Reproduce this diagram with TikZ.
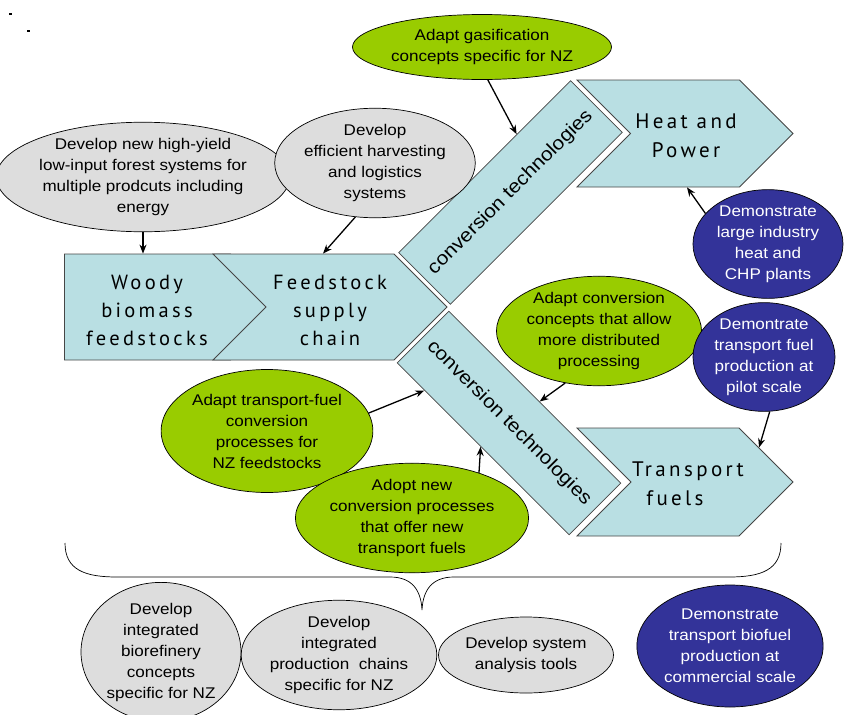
\documentclass[tikz,border=0pt]{standalone}
\usepackage{fontspec}
\setmainfont{Liberation Sans}[FakeStretch=1.1]
\newfontfamily\chevfont{PT Sans}[LetterSpace=16]
\usetikzlibrary{shapes.geometric,shapes.symbols,arrows.meta,calc}
\definecolor{boxblue}{RGB}{185,223,227}
\definecolor{lime}{RGB}{153,204,0}
\definecolor{navy}{RGB}{51,51,153}
\definecolor{lgray}{RGB}{221,221,221}
\definecolor{edge}{RGB}{70,70,70}
\tikzset{
  chev/.style={signal, signal to=east, draw=edge, line width=0.8pt, fill=boxblue, inner sep=0pt},
  chevtext/.style={align=center, inner sep=0pt, font=\chevfont\fontsize{20.5}{28}\selectfont},
  bigchevtext/.style={align=center, inner sep=0pt, font=\chevfont\fontsize{21}{29}\selectfont},
  bar/.style={rectangle, draw=edge, line width=0.8pt, fill=boxblue, minimum width=243pt, minimum height=73pt, inner sep=0pt, font=\fontsize{19}{22}\selectfont},
  bub/.style={ellipse, draw=black, line width=0.7pt, inner sep=0pt, align=center, font=\fontsize{15.5}{21}\selectfont},
  grayb/.style={bub, fill=lgray},
  greenb/.style={bub, fill=lime},
  blueb/.style={bub, fill=navy, text=white},
  arr/.style={-{Stealth[length=9pt,width=7pt]}, line width=1.3pt}
}
\begin{document}
\begin{tikzpicture}[x=1pt,y=-1pt]
\useasboundingbox (0,0) rectangle (844,715);
\clip (0,0) rectangle (844,715);
% specks
\fill[black] (9,13) rectangle (12,15);
\fill[black] (27,30) rectangle (30,32);

% chevrons
\node[chev, minimum width=219pt, minimum height=106pt] (woody) at (147.5,307) {};
\node[chev, signal from=west, minimum width=234pt, minimum height=106pt] (feed) at (330,307) {};
\node[chev, signal from=west, minimum width=216pt, minimum height=107pt] (heat) at (685,133.5) {};
\node[chev, signal from=west, minimum width=216pt, minimum height=108pt] (trans) at (685,482) {};
\node[chevtext] (woodyT) at (147,310) {Woody\\biomass\\feedstocks};
\node[chevtext] (feedT) at (330,310) {Feedstock\\supply\\chain};
\node[bigchevtext] (heatT) at (686,136) {Heat and\\Power};
\node[bigchevtext] (transT) at (688,484) {Transport\\fuels\hspace*{26pt}};

% conversion bars
\node[bar, rotate=45] (conv1) at (510.5,192.5) {conversion technologies};
\node[bar, rotate=-45] (conv2) at (509,423) {conversion technologies};

% bubbles
\node[grayb, minimum width=273pt, minimum height=95pt] (e1) at (143,177) {Develop new high-yield\\low-input forest systems for\\multiple prodcuts including\\energy};
\node[grayb, minimum width=176pt, minimum height=100pt] (e2) at (375,163) {Develop\\efficient harvesting\\and logistics\\systems};
\node[greenb, minimum width=259pt, minimum height=65pt] (e3) at (482,47) {Adapt gasification\\concepts specific for NZ};
\node[blueb, minimum width=150pt, minimum height=94pt] (e4) at (768,244) {Demonstrate\\large industry\\heat and\\CHP plants};
\node[greenb, minimum width=176pt, minimum height=100pt] (e5) at (599,331) {Adapt conversion\\concepts that allow\\more distributed\\processing};
\node[blueb, minimum width=142pt, minimum height=107pt] (e6) at (764,357) {Demontrate\\transport fuel\\production at\\pilot scale};
\node[greenb, minimum width=209pt, minimum height=123pt] (e7) at (267,431) {Adapt transport-fuel\\conversion\\processes for\\NZ feedstocks};
\node[greenb, minimum width=215pt, minimum height=100pt] (e8) at (412,518) {Adopt new\\conversion processes\\that offer new\\transport fuels};
\node[grayb, minimum width=160pt, minimum height=135pt] (e9) at (161,652) {Develop\\integrated\\biorefinery\\concepts\\specific for NZ};
\node[grayb, minimum width=183pt, minimum height=106pt] (e10) at (339,655) {Develop\\integrated\\production\ \ chains\\specific for NZ};
\node[grayb, minimum width=175pt, minimum height=76pt] (e11) at (526,655) {Develop system\\analysis tools};
\node[blueb, minimum width=185pt, minimum height=122pt] (e12) at (730,646) {Demonstrate\\transport biofuel\\production at\\commercial scale};

% brace
\draw[line width=0.7pt] (65,543) .. controls (65,570) and (85,577) .. (117,577) -- (390,577)
  .. controls (412,577) and (421,590) .. (422,610)
  .. controls (423,590) and (432,577) .. (454,577) -- (729,577)
  .. controls (761,577) and (781,570) .. (781,543);

% arrows
\draw[arr] (e1.south) -- (e1.south |- woody.north);
\draw[arr] (e2.250) -- ([xshift=-7pt]feed.north);
\draw[arr] (e3.280) -- (conv1.39);
\draw[arr] (e4.154) -- ([xshift=2pt]heat.south);
\draw[arr] (e5.237) -- (conv2.80);
\draw[arr] (e6.276) -- (trans.25);
\draw[arr] (e7.10) -- (conv2.204);
\draw[arr] (e8.34) -- (conv2.265);
\end{tikzpicture}
\end{document}
